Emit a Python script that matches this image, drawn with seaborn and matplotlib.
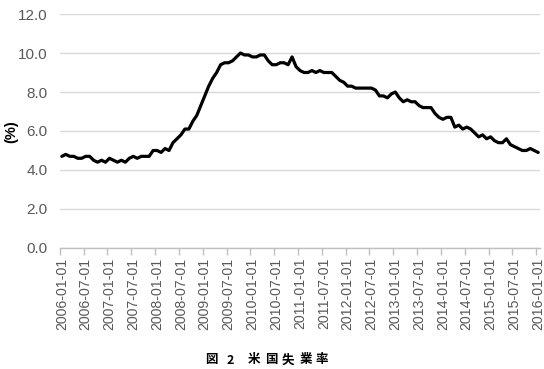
import numpy as np
import pandas as pd
import matplotlib
matplotlib.use("Agg")
import matplotlib.pyplot as plt
import seaborn as sns

# Monthly US unemployment rate (%), 2006-01 .. 2016-01
rate_2006 = [4.7, 4.8, 4.7, 4.7, 4.6, 4.6, 4.7, 4.7, 4.5, 4.4, 4.5, 4.4]
rate_2007 = [4.6, 4.5, 4.4, 4.5, 4.4, 4.6, 4.7, 4.6, 4.7, 4.7, 4.7, 5.0]
rate_2008 = [5.0, 4.9, 5.1, 5.0, 5.4, 5.6, 5.8, 6.1, 6.1, 6.5, 6.8, 7.3]
rate_2009 = [7.8, 8.3, 8.7, 9.0, 9.4, 9.5, 9.5, 9.6, 9.8, 10.0, 9.9, 9.9]
rate_2010 = [9.8, 9.8, 9.9, 9.9, 9.6, 9.4, 9.4, 9.5, 9.5, 9.4, 9.8, 9.3]
rate_2011 = [9.1, 9.0, 9.0, 9.1, 9.0, 9.1, 9.0, 9.0, 9.0, 8.8, 8.6, 8.5]
rate_2012 = [8.3, 8.3, 8.2, 8.2, 8.2, 8.2, 8.2, 8.1, 7.8, 7.8, 7.7, 7.9]
rate_2013 = [8.0, 7.7, 7.5, 7.6, 7.5, 7.5, 7.3, 7.2, 7.2, 7.2, 6.9, 6.7]
rate_2014 = [6.6, 6.7, 6.7, 6.2, 6.3, 6.1, 6.2, 6.1, 5.9, 5.7, 5.8, 5.6]
rate_2015 = [5.7, 5.5, 5.4, 5.4, 5.6, 5.3, 5.2, 5.1, 5.0, 5.0, 5.1, 5.0]
rate_2016 = [4.9]

rates = (rate_2006 + rate_2007 + rate_2008 + rate_2009 + rate_2010 + rate_2011
         + rate_2012 + rate_2013 + rate_2014 + rate_2015 + rate_2016)
dates = pd.date_range("2006-01-01", periods=len(rates), freq="MS")
date_labels = [d.strftime("%Y-%m-%d") for d in dates]

y_ticks = [0.0, 2.0, 4.0, 6.0, 8.0, 10.0, 12.0]
title_chars = ["図", "2", "米", "国", "失", "業", "率"]
ylabel_text = "(%)"

df = pd.DataFrame({"pos": np.arange(len(rates)), "rate": rates})

sns.set_theme(style="white")
plt.rcParams["font.family"] = ["Liberation Sans", "Noto Sans CJK JP", "DejaVu Sans"]

fig = plt.figure(figsize=(5.44, 3.69), dpi=100)
ax = fig.add_axes([0.110, 0.328, 0.883, 0.634])

sns.lineplot(data=df, x="pos", y="rate", ax=ax, color="black", linewidth=2.3)

ax.set_ylim(0, 12)
ax.set_xlim(-0.5, len(rates) - 0.5)
ax.set_yticks(y_ticks)
ax.set_yticklabels([f"{v:.1f}" for v in y_ticks], color="#595959", fontsize=11)
ax.yaxis.grid(True, color="#d9d9d9", linewidth=1)
ax.tick_params(axis="y", length=0, pad=9)

major = np.arange(0, len(rates), 6)
ax.set_xticks(major)
ax.set_xticklabels([date_labels[i] for i in major], rotation=90,
                   color="#595959", fontsize=10.2)
ax.set_xticks(np.arange(-0.5, len(rates), 6), minor=True)
ax.tick_params(axis="x", which="major", length=0, pad=7)
ax.tick_params(axis="x", which="minor", length=5, color="#bfbfbf", width=1,
               direction="out", bottom=True)

for s in ["top", "right", "left"]:
    ax.spines[s].set_visible(False)
ax.spines["bottom"].set_color("#bfbfbf")
ax.spines["bottom"].set_linewidth(1)

ax.set_xlabel("")
ax.set_ylabel("")
fig.text(0.021, 0.642, ylabel_text, rotation=90, ha="center", va="center",
         fontsize=10.5, fontweight="bold", color="black")

title_x_px = [211, 230, 254, 271, 288, 306, 322]
for ch, xp in zip(title_chars, title_x_px):
    fig.text(xp / 544, 1 - 360 / 369, ch, ha="center", va="center",
             fontsize=9, fontweight="bold", color="black",
             family=["Noto Sans CJK JP", "DejaVu Sans"])

fig.savefig("out.png", dpi=100)
